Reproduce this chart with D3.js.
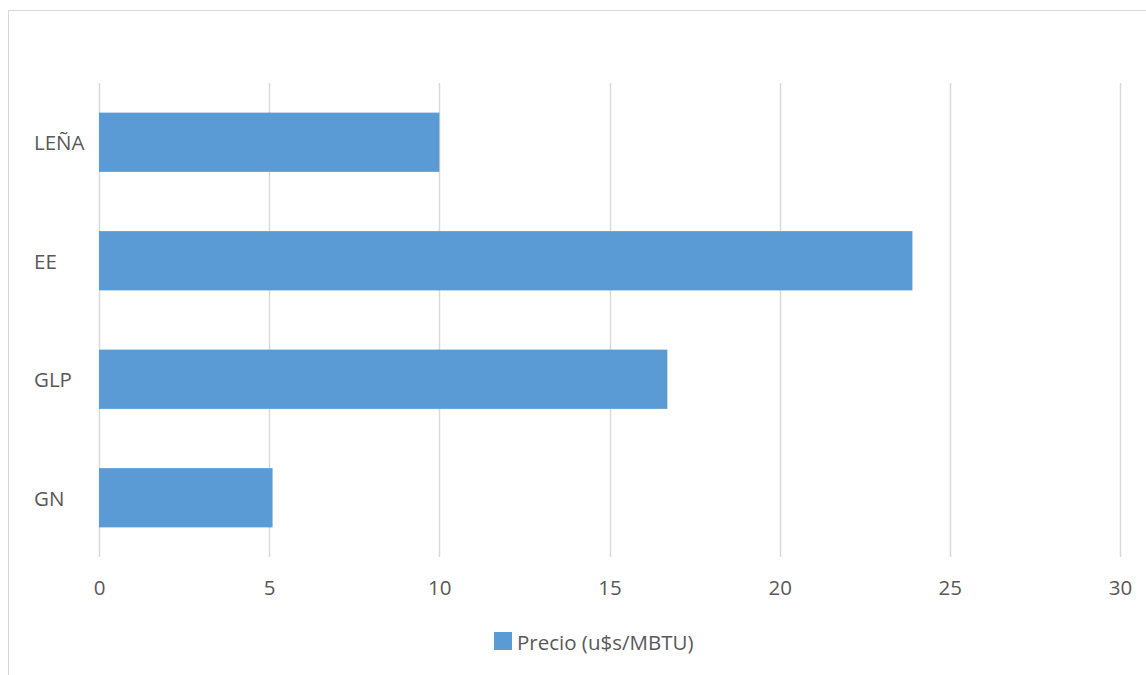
<!DOCTYPE html>
<html>
<head>
<meta charset="utf-8">
<script src="https://cdn.jsdelivr.net/npm/d3@7/dist/d3.min.js"></script>
<style>
  html, body { margin: 0; padding: 0; background: #fff; }
  svg { display: block; font-family: "Open Sans", "Noto Sans", sans-serif; }
</style>
</head>
<body>
<svg id="chart" width="1146" height="675"></svg>
<script>
// Energy prices per source, u$s per MBTU
const categories = ["LEÑA", "EE", "GLP", "GN"];
const prices = [10, 23.9, 16.7, 5.1];
const xTicks = [0, 5, 10, 15, 20, 25, 30];
const seriesName = "Precio (u$s/MBTU)";

const barColor = "#5B9BD5";
const gridColor = "#D9D9D9";
const textColor = "#595959";
const fontSize = "20.5px";

const svg = d3.select("#chart");

// outer chart frame
svg.append("rect")
  .attr("x", 8.5).attr("y", 10.5)
  .attr("width", 1160).attr("height", 700)
  .attr("fill", "none").attr("stroke", gridColor).attr("stroke-width", 1);

const plot = { left: 99, right: 1120, top: 83, bottom: 557 };

const x = d3.scaleLinear().domain([0, 30]).range([plot.left, plot.right]);
const y = d3.scaleBand().domain(categories).range([plot.top, plot.bottom])
  .paddingInner(0.5).paddingOuter(0.25);

// vertical gridlines
svg.append("g").selectAll("line").data(xTicks).join("line")
  .attr("x1", d => Math.round(x(d)) + 0.5).attr("x2", d => Math.round(x(d)) + 0.5)
  .attr("y1", plot.top).attr("y2", plot.bottom)
  .attr("stroke", gridColor).attr("stroke-width", 1.5);

// bars
svg.append("g").selectAll("rect").data(categories).join("rect")
  .attr("x", x(0))
  .attr("y", d => y(d))
  .attr("width", (d, i) => x(prices[i]) - x(0))
  .attr("height", y.bandwidth())
  .attr("fill", barColor);

// x-axis tick labels
const xAxis = d3.axisBottom(x).tickValues(xTicks).tickSize(0).tickPadding(0);
const gx = svg.append("g").attr("transform", `translate(0,${plot.bottom + 38})`).call(xAxis);
gx.select(".domain").remove();
gx.selectAll("text")
  .attr("dy", 0)
  .attr("fill", textColor)
  .style("font-size", fontSize)
  .style("font-family", "\"Open Sans\", sans-serif");

// category labels
svg.append("g").selectAll("text").data(categories).join("text")
  .attr("x", 34)
  .attr("y", d => y(d) + y.bandwidth() / 2 + 8)
  .attr("fill", textColor)
  .style("font-size", fontSize)
  .text(d => d);

// legend
const legend = svg.append("g").attr("transform", "translate(494,632)");
legend.append("rect").attr("width", 18).attr("height", 18).attr("fill", barColor);
legend.append("text")
  .attr("x", 23).attr("y", 18)
  .attr("fill", textColor)
  .style("font-size", fontSize)
  .text(seriesName);
</script>
</body>
</html>
